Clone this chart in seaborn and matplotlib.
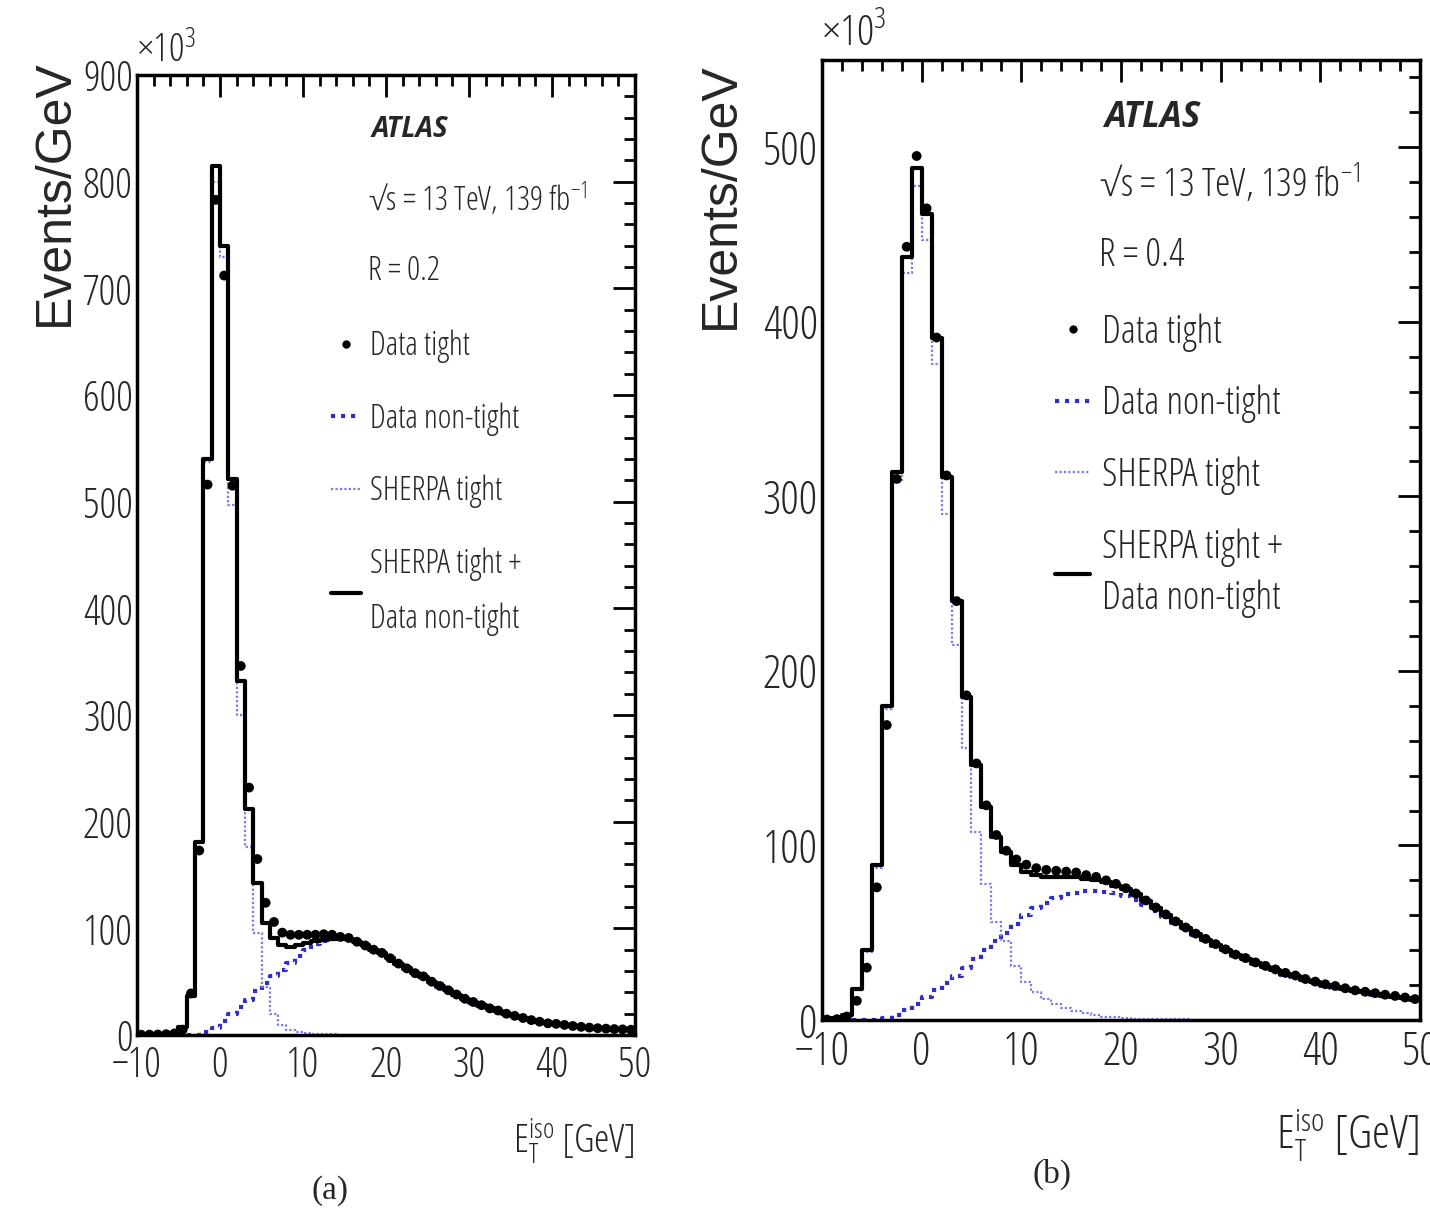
import numpy as np
import pandas as pd
import seaborn as sns
import matplotlib.pyplot as plt
from matplotlib.lines import Line2D
from matplotlib.ticker import MultipleLocator
from matplotlib import font_manager

# bins of 1 GeV from -10 to 50
edges = list(range(-10, 51))
centers = np.arange(-10, 50) + 0.5

# (a) R = 0.2, values in units of 10^3 events/GeV
a_data = [0.3, 0.4, 0.5, 0.8, 1.5, 5, 39, 173, 516, 783,
          712, 515, 346, 232, 165, 124, 106, 96, 94, 94,
          94, 94, 94.5, 94, 92, 91, 87.5, 84, 80, 77,
          72, 67, 62.5, 58, 55, 50, 46, 42, 38, 34,
          31, 28, 25, 23, 20, 18, 16, 14, 12.5, 11,
          10.5, 9.5, 8.5, 7.7, 7, 6.4, 6, 5.6, 5.3, 5]
a_nontight = [0, 0, 0, 0, 0, 0, 0, 0, 3, 7,
              13, 20, 26, 33, 41, 49, 55, 61, 68, 74,
              80, 85, 88, 90, 90.5, 89.5, 87, 84, 80, 76.5,
              71.5, 66.5, 62, 57.5, 54, 49.5, 45.5, 41.5, 37.5, 33.5,
              30.5, 27.5, 24.5, 22.5, 19.5, 17.5, 15.5, 13.5, 12, 10.5,
              10, 9, 8, 7.2, 6.5, 6, 5.6, 5.2, 4.9, 4.6]
a_sherpa = [0.5, 0.5, 0.5, 1, 2, 8, 37, 180, 537, 800,
            729, 497, 300, 176, 96, 45, 20, 9, 4.5, 2.5,
            1.5, 1, 0.8, 0.6, 0.5, 0.4, 0.4, 0.3, 0.3, 0.3,
            0.2, 0.2, 0.2, 0.2, 0.2, 0.2, 0.1, 0.1, 0.1, 0.1,
            0.1, 0.1, 0.1, 0.1, 0.1, 0.1, 0.1, 0.1, 0.1, 0.1,
            0.1, 0.1, 0.1, 0.1, 0.1, 0.1, 0.1, 0.1, 0.1, 0.1]
a_total = [0.5, 0.5, 0.5, 1, 2, 8, 37, 181, 540, 815,
           740, 521, 332, 212, 143, 105, 91, 84, 83, 84,
           86, 88, 89.5, 90.5, 91, 90, 87, 84, 80, 76.5,
           72, 67, 62.5, 58, 54.5, 50, 46, 42, 38, 34,
           31, 28, 25, 23, 20, 18, 16, 14, 12.5, 11,
           10.5, 9.5, 8.5, 7.7, 7, 6.4, 6, 5.6, 5.3, 5]

# (b) R = 0.4
b_data = [0.3, 0.5, 2, 11, 30, 76, 169, 310, 443, 495,
          465, 391, 312, 240, 186, 147, 123, 106, 97, 92,
          89, 87, 86, 85.5, 85, 84.5, 83, 82, 80, 78,
          75.5, 72.5, 68.5, 64.5, 60.5, 56.5, 53, 49.5, 46.5, 43.5,
          40.5, 37.5, 35.5, 33, 31, 29, 27, 25.5, 23.5, 22,
          20.5, 19.5, 18.2, 17, 16.2, 15.4, 14.5, 13.8, 12.9, 12]
b_nontight = [0, 0, 0, 0, 0, 0, 1, 3, 6, 9,
              13, 17, 21, 25, 30, 35, 40, 45, 50, 55,
              60, 64, 67, 70, 72, 73, 74, 74, 73.5, 72.5,
              71, 69, 66, 62.5, 59, 55.5, 52, 48.5, 45.5, 42.5,
              39.5, 36.5, 34.5, 32, 30, 28, 26, 24.5, 22.5, 21,
              19.5, 18.5, 17.3, 16.2, 15.4, 14.6, 13.7, 13.1, 12.1, 11.2]
b_sherpa = [0.5, 1, 3, 17, 39, 87, 178, 308, 428, 478,
            447, 376, 290, 215, 156, 108, 78, 56, 45, 31,
            22, 16, 12, 9, 7, 5, 4, 3, 2, 1.5,
            1, 0.8, 0.6, 0.5, 0.4, 0.3, 0.3, 0.2, 0.2, 0.2,
            0.1, 0.1, 0.1, 0.1, 0.1, 0.1, 0.1, 0.1, 0.1, 0.1,
            0.1, 0.1, 0.1, 0.1, 0.1, 0.1, 0.1, 0.1, 0.1, 0.1]
b_total = [0.5, 1, 3, 18, 40, 89, 180, 314, 437, 488,
           462, 391, 311, 240, 185, 146, 122, 105, 96, 89,
           85, 83, 82, 82, 82, 82, 81, 80, 79, 77,
           75, 72, 68, 64, 60, 56, 52.5, 49, 46, 43,
           40, 37, 35, 32.5, 30.5, 28.5, 26.5, 25, 23, 21.5,
           20, 19, 17.7, 16.6, 15.8, 15, 14, 13.4, 12.4, 11.5]

sns.set_theme(style="white")

# look for a condensed sans face, otherwise plain Liberation Sans
family, stretch = 'Liberation Sans', 'normal'
for fam in ['Liberation Sans Narrow', 'Noto Sans', 'Open Sans', 'Roboto', 'DejaVu Sans']:
    hits = [f for f in font_manager.fontManager.ttflist
            if f.name == fam and f.style == 'normal'
            and f.stretch in ('condensed', 'semi-condensed', 'extra-condensed')]
    if hits:
        family, stretch = fam, hits[0].stretch
        break

plt.rcParams['font.family'] = [family, 'DejaVu Sans']
plt.rcParams['font.stretch'] = stretch
plt.rcParams['font.weight'] = 'medium'
plt.rcParams['mathtext.fontset'] = 'custom'
plt.rcParams['mathtext.rm'] = family
plt.rcParams['mathtext.it'] = family + ':italic'
plt.rcParams['mathtext.bf'] = family + ':bold'

nt_color = '#2f2fc4'
sh_color = '#7a7ae8'
nt_ls = (0, (1, 1.4))
sh_ls = (0, (1, 1))


def draw_panel(ax, data, nontight, sherpa, total, ymax, rtext, tick_fs, txt_fs, atlas_fs,
               xlab_fs, leg_top, lab_sp, line_sp):
    df = pd.DataFrame({'x': centers, 'data': data, 'nontight': nontight,
                       'sherpa': sherpa, 'total': total})
    sns.histplot(data=df, x='x', weights='nontight', bins=edges, element='step', fill=False,
                 color=nt_color, linewidth=3, linestyle=nt_ls, ax=ax)
    sns.histplot(data=df, x='x', weights='sherpa', bins=edges, element='step', fill=False,
                 color=sh_color, linewidth=1.6, linestyle=sh_ls, ax=ax)
    sns.histplot(data=df, x='x', weights='total', bins=edges, element='step', fill=False,
                 color='black', linewidth=3, ax=ax)
    sns.scatterplot(data=df, x='x', y='data', color='black', s=50, edgecolor='none',
                    ax=ax, zorder=5)

    ax.set_xlim(-10, 50)
    ax.set_ylim(0, ymax)
    ax.xaxis.set_major_locator(MultipleLocator(10))
    ax.xaxis.set_minor_locator(MultipleLocator(2))
    ax.yaxis.set_major_locator(MultipleLocator(100))
    ax.yaxis.set_minor_locator(MultipleLocator(20))
    ax.tick_params(which='both', direction='in', top=True, right=True, color='black', width=2)
    ax.tick_params(which='major', length=16, labelsize=tick_fs)
    ax.tick_params(axis='x', which='major', pad=7)
    ax.tick_params(axis='y', which='major', pad=3)
    ax.tick_params(which='minor', length=8)
    for s in ax.spines.values():
        s.set_color('black')
        s.set_linewidth(2.5)

    ax.set_ylabel('Events/GeV', loc='top', fontsize=36, family='Liberation Sans',
                  stretch='normal', fontweight='normal')
    ax.set_xlabel(r'$\mathrm{E}_{\mathrm{T}}^{\mathrm{iso}}$ [GeV]', fontsize=xlab_fs, ha='right')
    ax.text(0, 1.004, r'$\times10^{3}$', transform=ax.transAxes, fontsize=tick_fs - 2,
            ha='left', va='bottom')

    ax.text(0.472, 0.958, 'ATLAS', transform=ax.transAxes, fontsize=atlas_fs,
            fontweight='bold', fontstyle='italic', ha='left', va='top')
    ax.text(0.464, 0.870, '\u221as = 13 TeV, 139 fb$^{-1}$', transform=ax.transAxes,
            fontsize=txt_fs, ha='left', va='center')
    ax.text(0.464, 0.796, rtext, transform=ax.transAxes, fontsize=txt_fs,
            ha='left', va='center')

    handles = [Line2D([], [], marker='o', ls='none', color='black', markersize=5),
               Line2D([], [], color=nt_color, ls=nt_ls, lw=3),
               Line2D([], [], color=sh_color, ls=sh_ls, lw=1.6),
               Line2D([], [], color='black', lw=3)]
    labels = ['Data tight', 'Data non-tight', 'SHERPA tight', 'SHERPA tight +\nData non-tight']
    leg = ax.legend(handles, labels, loc='upper left', bbox_to_anchor=(0.39, leg_top),
                    frameon=False, fontsize=txt_fs, handlelength=0.9, handletextpad=0.3,
                    labelspacing=lab_sp, borderaxespad=0, borderpad=0)
    for t in leg.get_texts():
        t.set_linespacing(line_sp)


fig = plt.figure(figsize=(14.3, 12.12), dpi=100)
ax_a = fig.add_axes([0.0958, 0.1460, 0.3483, 0.7921])
ax_b = fig.add_axes([0.5748, 0.1584, 0.4182, 0.7921])

draw_panel(ax_a, a_data, a_nontight, a_sherpa, a_total, 900, 'R = 0.2',
           30, 23.5, 20, 28, 0.735, 1.2, 1.85)
draw_panel(ax_b, b_data, b_nontight, b_sherpa, b_total, 550, 'R = 0.4',
           33, 28, 25, 33, 0.736, 0.85, 1.45)

ax_a.yaxis.set_label_coords(-0.165, 1.016)
ax_a.yaxis.label.set_va('center')
ax_b.yaxis.set_label_coords(-0.169, 0.998)
ax_b.yaxis.label.set_va('center')
ax_a.xaxis.set_label_coords(1.0, -0.085)
ax_a.xaxis.label.set_va('top')
ax_b.xaxis.set_label_coords(1.0, -0.09)
ax_b.xaxis.label.set_va('top')

fig.text(0.231, 0.018, '(a)', family='Liberation Serif', fontsize=24, fontweight='normal',
         stretch='normal', ha='center', va='center')
fig.text(0.736, 0.031, '(b)', family='Liberation Serif', fontsize=24, fontweight='normal',
         stretch='normal', ha='center', va='center')

fig.savefig('out.png', dpi=100, facecolor='white')
